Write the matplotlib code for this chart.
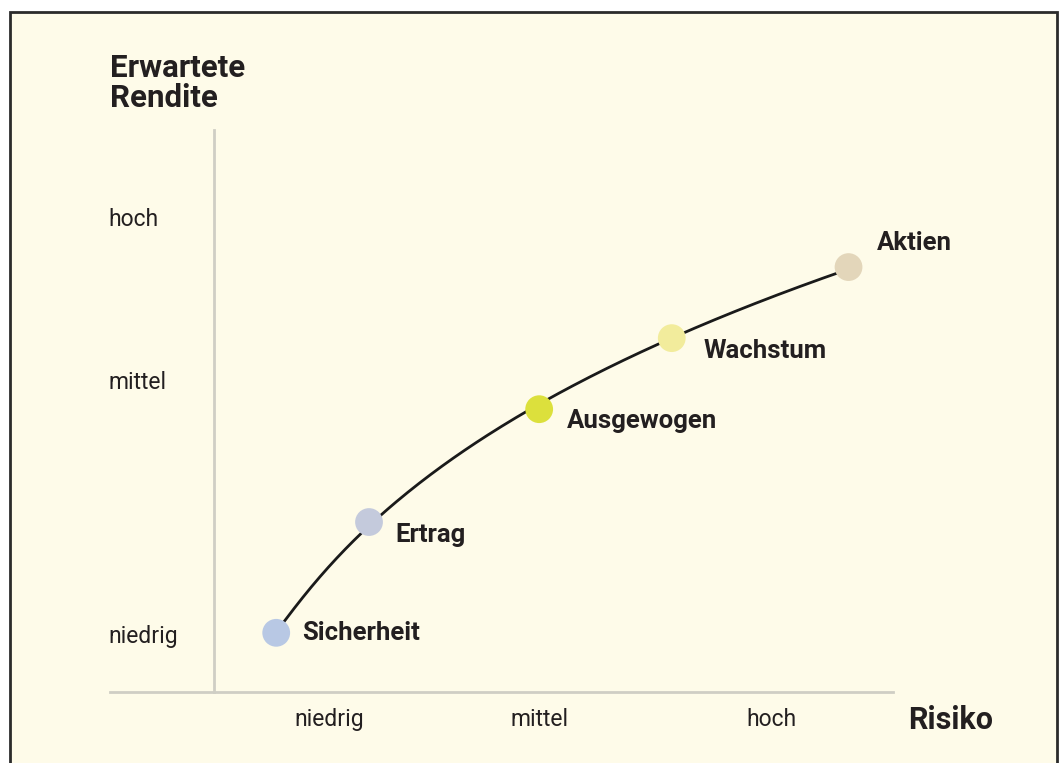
import numpy as np
import matplotlib.pyplot as plt
from matplotlib.patches import Rectangle

# risk / return scale: 1 = niedrig, 2 = mittel, 3 = hoch
namen = ['Sicherheit', 'Ertrag', 'Ausgewogen', 'Wachstum', 'Aktien']
risiko = [0.77, 1.19, 1.96, 2.56, 3.36]
rendite = [1.02, 1.55, 2.09, 2.43, 2.77]
farben = ['#B8C8E4', '#C4CADC', '#DCE03C', '#F2EC9C', '#E3D6BA']
label_off = [(26, 0), (26, -13), (28, -12), (32, -13), (28, 24)]

x_ticks = ['niedrig', 'mittel', 'hoch']
x_pos = [1.01, 1.96, 3.01]
y_ticks = ['niedrig', 'mittel', 'hoch']
y_pos = [1.0, 2.22, 3.0]

bg = '#FEFBE9'
fam = ['Roboto', 'DejaVu Sans']

fig = plt.figure(figsize=(10.6, 7.63), dpi=100, facecolor='white')
ax = fig.add_axes([0, 0, 1, 1])
ax.set_xlim(-0.48, 4.317)
ax.set_ylim(0.397, 4.048)
ax.axis('off')

# frame
ax.add_patch(Rectangle((10 / 1060, -0.05), 1047 / 1060, (763 - 12) / 763 + 0.05,
                       transform=fig.transFigure, facecolor=bg, clip_on=False,
                       edgecolor='#2b2b2b', lw=2, zorder=0))

# axes lines
ax.plot([0.489, 0.489], [0.737, 3.426], color='#CFCEC4', lw=2, zorder=1)
ax.plot([0.018, 3.561], [0.737, 0.737], color='#CFCEC4', lw=2, zorder=1)

# curve through the points
c = np.polyfit(np.log(np.array(risiko) - 0.6), rendite, 2)
xs = np.linspace(risiko[0] + 0.03, risiko[-1], 200)
ax.plot(xs, np.polyval(c, np.log(xs - 0.6)), color='#1a1a1a', lw=2, zorder=2)

ax.scatter(risiko, rendite, s=400, c=farben, zorder=3, edgecolors='none')
for n, x, y, off in zip(namen, risiko, rendite, label_off):
    ax.annotate(n, (x, y), xytext=off, textcoords='offset pixels',
                ha='left', va='center', fontsize=18.5, fontweight='bold',
                family=fam, color='#231f20')

for t, p in zip(x_ticks, x_pos):
    ax.text(p, 0.603, t, ha='center', va='center', fontsize=16.5,
            family=fam, color='#231f20')
for t, p in zip(y_ticks, y_pos):
    ax.text(0.009, p, t, ha='left', va='center', fontsize=16.5,
            family=fam, color='#231f20')

ax.text(0.018, 3.65, 'Erwartete\nRendite', ha='left', va='center', fontsize=22.5,
        fontweight='bold', family=fam, color='#231f20', linespacing=1.0)
ax.text(3.63, 0.603, 'Risiko', ha='left', va='center', fontsize=22,
        fontweight='bold', family=fam, color='#231f20')

fig.savefig('out.png', dpi=100, facecolor='white')
